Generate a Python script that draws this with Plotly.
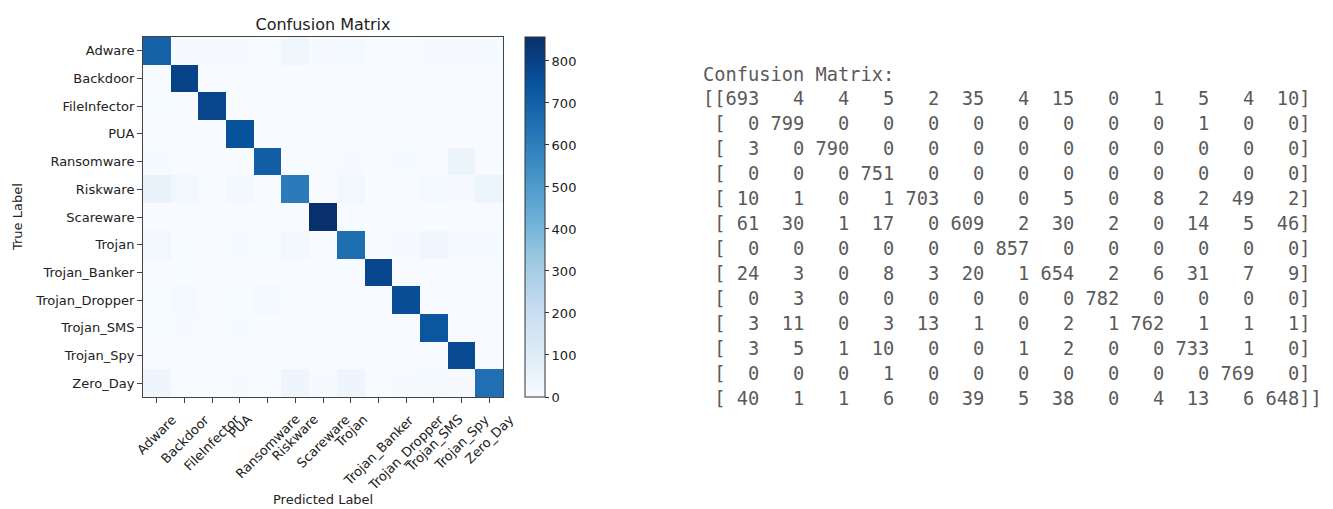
import numpy as np
import plotly.graph_objects as go

labels = ["Adware", "Backdoor", "FileInfector", "PUA", "Ransomware", "Riskware",
          "Scareware", "Trojan", "Trojan_Banker", "Trojan_Dropper", "Trojan_SMS",
          "Trojan_Spy", "Zero_Day"]

row_adware = [693, 4, 4, 5, 2, 35, 4, 15, 0, 1, 5, 4, 10]
row_backdoor = [0, 799, 0, 0, 0, 0, 0, 0, 0, 0, 1, 0, 0]
row_fileinfector = [3, 0, 790, 0, 0, 0, 0, 0, 0, 0, 0, 0, 0]
row_pua = [0, 0, 0, 751, 0, 0, 0, 0, 0, 0, 0, 0, 0]
row_ransomware = [10, 1, 0, 1, 703, 0, 0, 5, 0, 8, 2, 49, 2]
row_riskware = [61, 30, 1, 17, 0, 609, 2, 30, 2, 0, 14, 5, 46]
row_scareware = [0, 0, 0, 0, 0, 0, 857, 0, 0, 0, 0, 0, 0]
row_trojan = [24, 3, 0, 8, 3, 20, 1, 654, 2, 6, 31, 7, 9]
row_trojan_banker = [0, 3, 0, 0, 0, 0, 0, 0, 782, 0, 0, 0, 0]
row_trojan_dropper = [3, 11, 0, 3, 13, 1, 0, 2, 1, 762, 1, 1, 1]
row_trojan_sms = [3, 5, 1, 10, 0, 0, 1, 2, 0, 0, 733, 1, 0]
row_trojan_spy = [0, 0, 0, 1, 0, 0, 0, 0, 0, 0, 0, 769, 0]
row_zero_day = [40, 1, 1, 6, 0, 39, 5, 38, 0, 4, 13, 6, 648]

colorbar_ticks = [0, 100, 200, 300, 400, 500, 600, 700, 800]

matrix = [row_adware, row_backdoor, row_fileinfector, row_pua, row_ransomware,
          row_riskware, row_scareware, row_trojan, row_trojan_banker,
          row_trojan_dropper, row_trojan_sms, row_trojan_spy, row_zero_day]

# page body has an 8px margin; figure sits at (8, 8)
OFF = 8
W, H = 1333 - OFF, 509 - OFF
# plot area in page pixels
PX0, PX1, PY0, PY1 = 143, 503, 37, 397


def px(x):
    return (x - OFF) / W


def py(y):
    return 1 - (y - OFF) / H


blues = [[0.0, "#f7fbff"], [0.125, "#deebf7"], [0.25, "#c6dbef"], [0.375, "#9ecae1"],
         [0.5, "#6baed6"], [0.625, "#4292c6"], [0.75, "#2171b5"], [0.875, "#08519c"],
         [1.0, "#08306b"]]

arr = np.array(matrix)
zmax = int(arr.max())
n = len(labels)

fig = go.Figure()
fig.add_trace(go.Heatmap(
    z=matrix, x=labels, y=labels, colorscale=blues, zmin=0, zmax=zmax,
    xgap=0, ygap=0,
    colorbar=dict(
        x=px(525), xanchor="left", y=py(PY0), yanchor="top", xpad=0, ypad=0,
        len=PY1 - PY0, lenmode="pixels", thickness=20, thicknessmode="pixels",
        outlinewidth=1, outlinecolor="#333", tickvals=colorbar_ticks,
        ticks="outside", ticklen=4, tickcolor="#333",
        tickfont=dict(family="DejaVu Sans", size=13, color="#222"),
    ),
))

axis_common = dict(
    showline=True, mirror=True, linecolor="#444", linewidth=1,
    ticks="outside", ticklen=5, tickwidth=1, tickcolor="#444",
    showgrid=False, zeroline=False, type="category",
)

fig.update_layout(
    width=W, height=H, autosize=False,
    margin=dict(l=0, r=0, t=0, b=0),
    paper_bgcolor="white", plot_bgcolor="white",
    xaxis=dict(domain=[px(PX0), px(PX1)], showticklabels=False,
               range=[-0.5, n - 0.5], autorange=False, **axis_common),
    yaxis=dict(domain=[py(PY1), py(PY0)], range=[n - 0.5, -0.5], autorange=False,
               tickfont=dict(family="DejaVu Sans", size=13, color="#222"),
               **axis_common),
    title=dict(text="Confusion Matrix", x=(px(PX0) + px(PX1)) / 2, y=py(24),
               xref="paper", yref="paper", xanchor="center", yanchor="middle",
               font=dict(family="DejaVu Sans", size=16, color="#222")),
    showlegend=False,
)

annotations = []
# rotated x tick labels (matplotlib-style centred)
for lab in labels:
    annotations.append(dict(
        x=lab, xref="x", y=py(PY1), yref="paper", yshift=-12,
        xanchor="center", yanchor="top", textangle=-45, showarrow=False,
        text=lab, font=dict(family="DejaVu Sans", size=13, color="#222"),
    ))
# axis titles
annotations.append(dict(
    x=(px(PX0) + px(PX1)) / 2, xref="paper", y=py(499), yref="paper",
    xanchor="center", yanchor="middle", showarrow=False, text="Predicted Label",
    font=dict(family="DejaVu Sans", size=13, color="#222"),
))
annotations.append(dict(
    x=px(18), xref="paper", y=(py(PY0) + py(PY1)) / 2, yref="paper",
    xanchor="center", yanchor="middle", showarrow=False, text="True Label",
    textangle=-90, font=dict(family="DejaVu Sans", size=13, color="#222"),
))

# printed confusion matrix text
mono = dict(family="DejaVu Sans Mono", size=18.7, color="#5a5a5a")
annotations.append(dict(
    x=px(701), xref="paper", y=py(75), yref="paper",
    xanchor="left", yanchor="middle", showarrow=False,
    text="Confusion\u00a0Matrix:", font=mono,
))
for i, line in enumerate(str(arr).split("\n")):
    annotations.append(dict(
        x=px(701), xref="paper", y=py(98.3 + i * 25.0), yref="paper",
        xanchor="left", yanchor="middle", showarrow=False,
        text=line.replace(" ", "\u00a0"), font=mono,
    ))

fig.update_layout(annotations=annotations)

fig.write_html("out.html")
